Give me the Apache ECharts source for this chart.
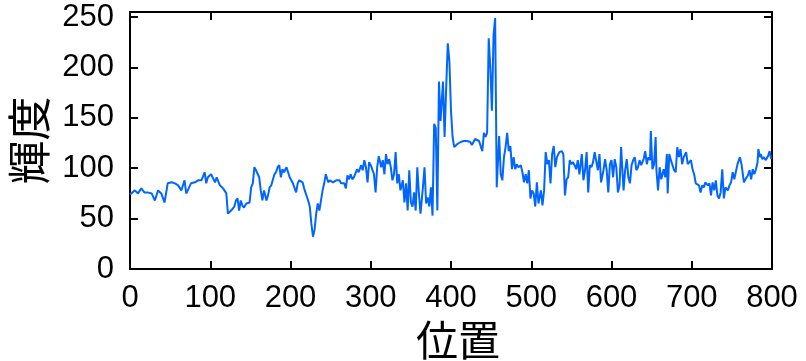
<!DOCTYPE html>
<html>
<head>
    <meta charset="utf-8">
    <title>輝度</title>
    <script type="text/javascript" src="https://cdn.jsdelivr.net/npm/echarts@6/dist/echarts.min.js"></script>
    <style>
        body { margin: 0; background: #fff; }
    </style>
</head>
<body>
<div id="main" style="width:806px;height:361px;"></div>

<script type="text/javascript">
    // 位置 (x) と 輝度 (y)
    var positions = [
        0, 2, 6, 10, 14, 18, 22, 27, 31, 35, 39, 43, 47, 52, 56, 60, 64, 68, 70, 72,
        76, 81, 85, 89, 93, 95, 97, 101, 106, 108, 112, 116, 120, 122, 126, 130, 132, 134, 136, 138,
        140, 142, 145, 149, 151, 153, 155, 157, 159, 161, 163, 165, 167, 170, 172, 174, 176, 178, 180, 182,
        184, 186, 188, 190, 192, 195, 199, 203, 207, 209, 211, 215, 217, 219, 222, 224, 226, 228, 230, 232,
        234, 236, 238, 240, 242, 244, 247, 249, 253, 257, 261, 263, 265, 267, 269, 271, 273, 275, 277, 279,
        283, 285, 288, 290, 292, 294, 296, 298, 300, 302, 304, 306, 308, 310, 313, 315, 317, 319, 321, 323,
        325, 327, 329, 331, 333, 335, 337, 340, 342, 344, 346, 348, 350, 352, 354, 356, 358, 360, 362, 365,
        367, 369, 371, 373, 375, 377, 379, 381, 383, 385, 387, 390, 392, 394, 396, 398, 400, 402, 404, 405,
        408, 412, 416, 420, 424, 426, 430, 435, 439, 441, 443, 445, 447, 449, 451, 453, 455, 457, 460, 462,
        464, 466, 468, 470, 472, 474, 476, 478, 480, 482, 484, 487, 489, 491, 493, 495, 497, 499, 501, 503,
        505, 507, 509, 512, 514, 516, 518, 520, 522, 524, 526, 528, 530, 532, 535, 538, 540, 542, 544, 546,
        548, 550, 552, 554, 556, 558, 560, 563, 565, 567, 569, 571, 573, 575, 577, 579, 581, 583, 585, 587,
        590, 592, 594, 596, 598, 600, 602, 604, 606, 608, 610, 612, 615, 617, 619, 621, 623, 625, 627, 629,
        631, 633, 635, 637, 640, 642, 644, 646, 648, 649, 651, 653, 655, 656, 658, 660, 662, 665, 667, 669,
        670, 672, 674, 676, 678, 680, 682, 684, 686, 688, 690, 693, 695, 697, 699, 701, 703, 705, 707, 709,
        711, 713, 715, 717, 720, 722, 724, 726, 728, 730, 732, 734, 736, 738, 740, 742, 745, 747, 749, 751,
        753, 757, 760, 762, 765, 767, 770, 772, 774, 776, 778, 780, 782, 783, 785, 786, 788, 790, 792, 795,
        797, 799
    ];
    var brightness = [
        74, 75, 78, 75, 80, 76, 76, 75, 68, 78, 75, 66, 85, 86, 85, 83, 78, 88, 75, 78,
        85, 86, 88, 88, 96, 85, 91, 94, 86, 91, 83, 80, 75, 55, 58, 62, 68, 70, 58, 68,
        63, 61, 65, 66, 81, 85, 101, 98, 99, 91, 78, 68, 78, 68, 73, 81, 83, 83, 94, 96,
        101, 103, 91, 99, 96, 101, 91, 85, 76, 85, 88, 86, 80, 75, 68, 62, 45, 32, 39, 55,
        65, 58, 68, 78, 85, 94, 86, 88, 86, 88, 88, 85, 86, 85, 80, 93, 89, 94, 89, 91,
        99, 96, 103, 98, 108, 101, 86, 106, 103, 104, 94, 76, 101, 112, 101, 108, 94, 114, 104, 109,
        101, 88, 94, 116, 85, 94, 78, 88, 66, 85, 58, 98, 66, 62, 76, 58, 101, 75, 55, 81,
        101, 65, 71, 62, 81, 53, 144, 140, 58, 186, 147, 186, 131, 180, 224, 206, 157, 131, 121, 121,
        124, 126, 127, 127, 126, 123, 129, 127, 117, 135, 131, 135, 229, 200, 157, 232, 249, 81, 132, 94,
        88, 111, 121, 135, 117, 122, 99, 111, 99, 104, 101, 103, 96, 86, 94, 85, 98, 70, 78, 75,
        62, 86, 65, 78, 63, 78, 116, 104, 108, 85, 114, 122, 101, 111, 116, 117, 114, 73, 89, 91,
        108, 104, 106, 103, 99, 108, 94, 114, 88, 98, 116, 76, 103, 101, 106, 116, 116, 98, 114, 86,
        98, 109, 98, 76, 104, 108, 91, 109, 101, 76, 83, 121, 78, 98, 109, 91, 85, 103, 108, 111,
        98, 101, 108, 103, 109, 117, 104, 111, 108, 137, 99, 104, 131, 98, 78, 101, 89, 99, 91, 114,
        75, 114, 108, 109, 98, 96, 121, 111, 119, 104, 111, 116, 104, 103, 108, 99, 94, 85, 86, 83,
        76, 83, 81, 86, 83, 85, 73, 86, 78, 88, 73, 70, 76, 99, 70, 81, 78, 83, 86, 96,
        89, 104, 111, 104, 86, 89, 93, 98, 89, 99, 94, 99, 106, 119, 111, 114, 109, 111, 108, 112,
        117, 109
    ];
    var xTicks = [0, 100, 200, 300, 400, 500, 600, 700, 800];
    var yTicks = [0, 50, 100, 150, 200, 250];

    var lineData = [];
    for (var i = 0; i < positions.length; i++) {
        lineData.push([positions[i], brightness[i]]);
    }

    var myChart = echarts.init(document.getElementById('main'));
    var fontLatin = '"Liberation Sans", Arial, sans-serif';
    var fontCjk = '"Noto Sans CJK JP", "Noto Sans CJK SC", sans-serif';
    var frameLine = { show: true, onZero: false, lineStyle: { color: '#000', width: 2 } };
    var frameTick = { show: true, inside: true, length: 8, lineStyle: { color: '#000', width: 2 } };

    var option = {
        animation: false,
        backgroundColor: '#fff',
        grid: { left: 130, right: 34, top: 12, bottom: 92, containLabel: false, outerBoundsMode: 'none' },
        xAxis: [{
            type: 'value',
            min: xTicks[0],
            max: xTicks[xTicks.length - 1],
            interval: 100,
            name: '位置',
            nameLocation: 'middle',
            nameGap: 46,
            nameTextStyle: { fontFamily: fontCjk, fontSize: 42, color: '#000', padding: [0, 0, 0, 14] },
            axisLine: frameLine,
            axisTick: frameTick,
            axisLabel: { margin: 14, fontFamily: fontLatin, fontSize: 31, color: '#000' },
            splitLine: { show: false }
        }, {
            type: 'value',
            position: 'top',
            min: xTicks[0],
            max: xTicks[xTicks.length - 1],
            interval: 100,
            axisLine: frameLine,
            axisTick: frameTick,
            axisLabel: { show: false },
            splitLine: { show: false }
        }],
        yAxis: [{
            type: 'value',
            min: yTicks[0],
            max: 255,
            interval: 50,
            name: '輝度',
            nameLocation: 'middle',
            nameGap: 76,
            nameTextStyle: { fontFamily: fontCjk, fontSize: 44, color: '#000' },
            axisLine: frameLine,
            axisTick: frameTick,
            axisLabel: {
                margin: 16, fontFamily: fontLatin, fontSize: 31, color: '#000',
                padding: [16, 0, 0, 0],
                formatter: function (v) { return yTicks.indexOf(v) >= 0 ? String(v) : ''; }
            },
            splitLine: { show: false }
        }, {
            type: 'value',
            position: 'right',
            min: yTicks[0],
            max: 255,
            interval: 50,
            axisLine: frameLine,
            axisTick: frameTick,
            axisLabel: { show: false },
            splitLine: { show: false }
        }],
        series: [{
            type: 'line',
            xAxisIndex: 0,
            yAxisIndex: 0,
            data: lineData,
            showSymbol: false,
            lineStyle: { color: '#0066ff', width: 2 }
        }]
    };
    myChart.setOption(option);
</script>
</body>
</html>
